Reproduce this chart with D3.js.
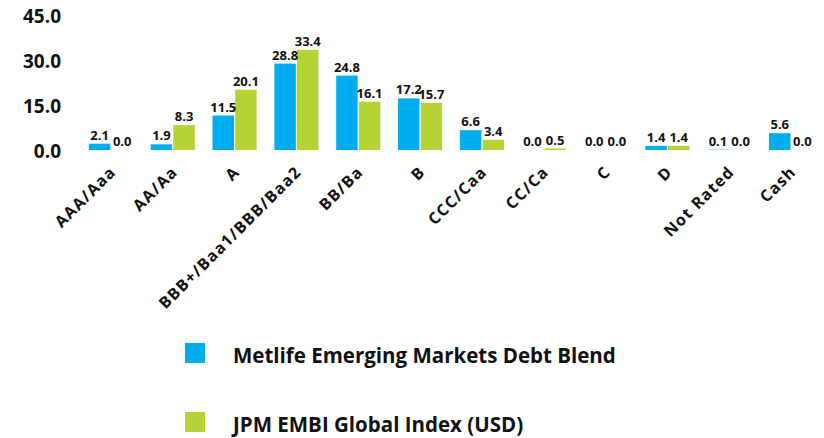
<!DOCTYPE html>
<html>
<head>
<meta charset="utf-8">
<script src="https://cdn.jsdelivr.net/npm/d3@7"></script>
<style>
  body { margin: 0; background: #fff; }
  svg text { font-family: "Open Sans", sans-serif; font-weight: 700; fill: #111; }
</style>
</head>
<body>
<script>
// data
var categories = ['AAA/Aaa', 'AA/Aa', 'A', 'BBB+/Baa1/BBB/Baa2', 'BB/Ba', 'B', 'CCC/Caa', 'CC/Ca', 'C', 'D', 'Not Rated', 'Cash'];
var seriesNames = ['Metlife Emerging Markets Debt Blend', 'JPM EMBI Global Index (USD)'];
var metlife = [2.1, 1.9, 11.5, 28.8, 24.8, 17.2, 6.6, 0.0, 0.0, 1.4, 0.1, 5.6];
var jpm = [0.0, 8.3, 20.1, 33.4, 16.1, 15.7, 3.4, 0.5, 0.0, 1.4, 0.0, 0.0];
var yTicks = [0, 15, 30, 45];
var colors = ['#00aeef', '#b5d334'];

var width = 824, height = 438;

var svg = d3.select('body').append('svg')
  .attr('width', width)
  .attr('height', height);

var rows = categories.map(function(c, i) {
  return {cat: c, vals: [metlife[i], jpm[i]]};
});

var x0 = d3.scaleBand()
  .domain(categories)
  .range([80, 822])
  .paddingInner(0.25)
  .paddingOuter(0.125);

var x1 = d3.scaleBand()
  .domain([0, 1])
  .range([0, x0.bandwidth()])
  .padding(0.05);

var y = d3.scaleLinear()
  .domain([0, 45])
  .range([150, 15]);

// y axis labels only, no line
var yAxis = d3.axisLeft(y)
  .tickValues(yTicks)
  .tickFormat(d3.format('.1f'))
  .tickSize(0)
  .tickPadding(0);

svg.append('g')
  .attr('transform', 'translate(61,0)')
  .call(yAxis)
  .call(function(g) { g.select('.domain').remove(); })
  .selectAll('text')
  .attr('font-size', 19)
  .attr('dy', '0.4em');

// bars
var groups = svg.selectAll('.grp')
  .data(rows)
  .enter()
  .append('g')
  .attr('class', 'grp')
  .attr('transform', function(d) { return 'translate(' + x0(d.cat) + ',0)'; });

groups.selectAll('rect')
  .data(function(d) { return d.vals.map(function(v, i) { return {v: v, s: i}; }); })
  .enter()
  .append('rect')
  .attr('x', function(d) { return x1(d.s); })
  .attr('width', x1.bandwidth())
  .attr('y', function(d) { return y(d.v); })
  .attr('height', function(d) { return y(0) - y(d.v); })
  .attr('fill', function(d) { return colors[d.s]; });

groups.selectAll('.val')
  .data(function(d) { return d.vals.map(function(v, i) { return {v: v, s: i}; }); })
  .enter()
  .append('text')
  .attr('class', 'val')
  .attr('x', function(d) { return x1(d.s) + x1.bandwidth() / 2; })
  .attr('y', function(d) { return y(d.v) - 4; })
  .attr('text-anchor', 'middle')
  .attr('font-size', 13)
  .text(function(d) { return d3.format('.1f')(d.v); });

// x axis labels, rotated
var xAxis = d3.axisBottom(x0).tickSize(0).tickPadding(0);

svg.append('g')
  .attr('transform', 'translate(0,160)')
  .call(xAxis)
  .call(function(g) { g.select('.domain').remove(); })
  .selectAll('text')
  .attr('font-size', 16)
  .attr('letter-spacing', 1.2)
  .attr('text-anchor', 'end')
  .attr('dy', 0)
  .attr('transform', 'translate(6,13) rotate(-45)');

// legend
var legend = svg.selectAll('.leg')
  .data(seriesNames)
  .enter()
  .append('g')
  .attr('class', 'leg')
  .attr('transform', function(d, i) { return 'translate(185,' + (343 + i * 69) + ')'; });

legend.append('rect')
  .attr('width', 20)
  .attr('height', 20)
  .attr('fill', function(d, i) { return colors[i]; });

legend.append('text')
  .attr('x', 48)
  .attr('y', 20)
  .attr('font-size', 20.5)
  .text(function(d) { return d; });
</script>
</body>
</html>
